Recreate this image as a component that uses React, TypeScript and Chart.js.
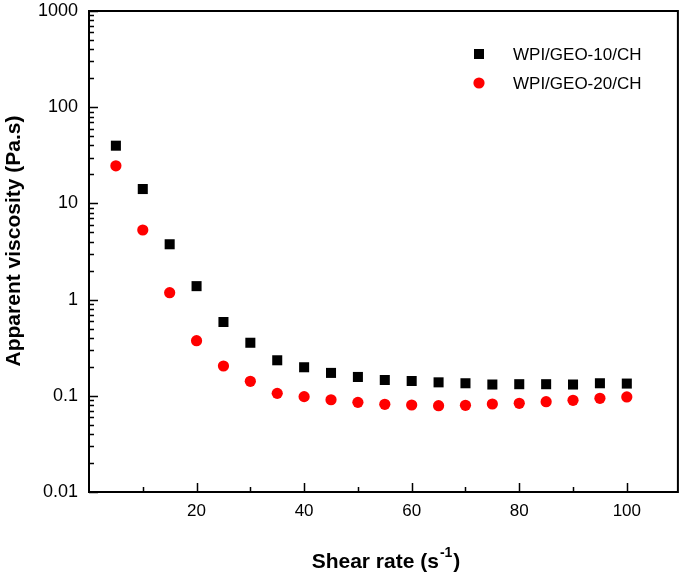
import React, { useEffect, useRef } from "react";
import { Chart, registerables } from "chart.js";

Chart.register(...registerables);

const shearRates = [5, 10, 15, 20, 25, 30, 35, 40, 45, 50, 55, 60, 65, 70, 75, 80, 85, 90, 95, 100];
const geo10 = [39.8, 14.1, 3.76, 1.38, 0.585, 0.356, 0.234, 0.198, 0.173, 0.157, 0.146, 0.1425, 0.138, 0.135, 0.131, 0.132, 0.132, 0.131, 0.135, 0.134];
const geo20 = [24.6, 5.29, 1.18, 0.374, 0.204, 0.1415, 0.106, 0.098, 0.091, 0.0855, 0.0816, 0.0802, 0.0789, 0.0797, 0.0822, 0.0835, 0.0869, 0.0898, 0.0942, 0.0973];
const seriesNames = ["WPI/GEO-10/CH", "WPI/GEO-20/CH"];
const xTickValues = [20, 40, 60, 80, 100];
const xMinorValues = [10, 30, 50, 70, 90];
const yTickValues = [0.01, 0.1, 1, 10, 100, 1000];
const xTitle = "Shear rate (s";
const xTitleSup = "-1";
const yTitle = "Apparent viscosity (Pa.s)";

const FONT = "'Liberation Sans', Arial, sans-serif";

const decorPlugin = {
  id: "decor",
  afterDraw(chart: any) {
    const ctx = chart.ctx;
    const { left, right, top, bottom } = chart.chartArea;
    const xs = chart.scales.x;
    const ys = chart.scales.y;
    ctx.save();
    ctx.strokeStyle = "#000";
    ctx.lineWidth = 2;
    ctx.strokeRect(left, top, right - left, bottom - top);
    ctx.lineWidth = 1.5;
    ctx.beginPath();
    xTickValues.forEach((v) => {
      const px = Math.round(xs.getPixelForValue(v)) + 0.5;
      ctx.moveTo(px, bottom);
      ctx.lineTo(px, bottom - 9);
    });
    xMinorValues.forEach((v) => {
      const px = Math.round(xs.getPixelForValue(v)) + 0.5;
      ctx.moveTo(px, bottom);
      ctx.lineTo(px, bottom - 5);
    });
    for (let d = -2; d <= 3; d++) {
      const base = Math.pow(10, d);
      const py = Math.round(ys.getPixelForValue(base)) + 0.5;
      ctx.moveTo(left, py);
      ctx.lineTo(left + 9, py);
      if (d < 3) {
        for (let m = 2; m <= 9; m++) {
          const my = Math.round(ys.getPixelForValue(base * m)) + 0.5;
          ctx.moveTo(left, my);
          ctx.lineTo(left + 5, my);
        }
      }
    }
    ctx.stroke();

    // legend
    const ds = chart.data.datasets;
    const lx = 479;
    const ly = [54, 83];
    ds.forEach((d: any, i: number) => {
      ctx.fillStyle = d.backgroundColor;
      if (d.pointStyle === "rect") {
        ctx.fillRect(lx - 5, ly[i] - 5, 10, 10);
      } else {
        ctx.beginPath();
        ctx.arc(lx, ly[i], 5.6, 0, Math.PI * 2);
        ctx.fill();
      }
      ctx.fillStyle = "#000";
      ctx.font = `17px ${FONT}`;
      ctx.textAlign = "left";
      ctx.textBaseline = "middle";
      ctx.fillText(d.label, 513, ly[i] + 1);
    });

    // x title with superscript
    ctx.fillStyle = "#000";
    ctx.textBaseline = "alphabetic";
    ctx.textAlign = "left";
    const mainFont = `bold 21px ${FONT}`;
    const supFont = `bold 14px ${FONT}`;
    ctx.font = mainFont;
    const w1 = ctx.measureText(xTitle).width;
    const w3 = ctx.measureText(")").width;
    ctx.font = supFont;
    const w2 = ctx.measureText(xTitleSup).width;
    const cx = 385;
    let sx = cx - (w1 + w2 + w3) / 2;
    const by = 568;
    ctx.font = mainFont;
    ctx.fillText(xTitle, sx, by);
    sx += w1;
    ctx.font = supFont;
    ctx.fillText(xTitleSup, sx + 1, by - 11);
    sx += w2 + 2;
    ctx.font = mainFont;
    ctx.fillText(")", sx, by);

    // y title
    ctx.translate(14, 241);
    ctx.rotate(-Math.PI / 2);
    ctx.textAlign = "center";
    ctx.textBaseline = "middle";
    ctx.font = mainFont;
    ctx.fillText(yTitle, 0, 0);
    ctx.restore();
  },
};

export default function App() {
  const ref = useRef<HTMLCanvasElement>(null);
  useEffect(() => {
    document.body.style.margin = "0";
    const canvas = ref.current;
    if (!canvas) return;
    const chart = new Chart(canvas, {
      type: "scatter",
      data: {
        datasets: [
          {
            label: seriesNames[0],
            data: shearRates.map((x, i) => ({ x, y: geo10[i] })),
            backgroundColor: "#000000",
            borderColor: "#000000",
            pointStyle: "rect",
            pointRadius: 7.1,
            pointBorderWidth: 0,
          },
          {
            label: seriesNames[1],
            data: shearRates.map((x, i) => ({ x, y: geo20[i] })),
            backgroundColor: "#ff0000",
            borderColor: "#ff0000",
            pointStyle: "circle",
            pointRadius: 5.6,
            pointBorderWidth: 0,
          },
        ],
      },
      options: {
        responsive: false,
        animation: false,
        layout: { padding: { left: 0, top: 11, right: 6, bottom: 0 } },
        plugins: { legend: { display: false }, tooltip: { enabled: false } },
        scales: {
          x: {
            type: "linear",
            min: 0,
            max: 109.5,
            grid: { display: false, drawTicks: false },
            border: { display: false },
            afterBuildTicks: (s: any) => {
              s.ticks = xTickValues.map((v) => ({ value: v }));
            },
            afterFit: (s: any) => {
              s.height = 87;
              s.paddingLeft = 0;
              s.paddingRight = 0;
            },
            ticks: {
              padding: 9,
              color: "#000",
              maxRotation: 0,
              font: { family: FONT, size: 17 },
              callback: (v: any) => String(v),
            },
          },
          y: {
            type: "logarithmic",
            min: 0.01,
            max: 1000,
            grid: { display: false, drawTicks: false },
            border: { display: false },
            afterBuildTicks: (s: any) => {
              s.ticks = yTickValues.map((v) => ({ value: v }));
            },
            afterFit: (s: any) => {
              s.width = 89;
              s.paddingTop = 0;
              s.paddingBottom = 0;
            },
            ticks: {
              padding: 11,
              color: "#000",
              font: { family: FONT, size: 18 },
              callback: (v: any) => String(v),
            },
          },
        },
      },
      plugins: [decorPlugin],
    } as any);
    return () => chart.destroy();
  }, []);
  return (
    <canvas ref={ref} width={685} height={579} style={{ display: "block", background: "#fff" }} />
  );
}
